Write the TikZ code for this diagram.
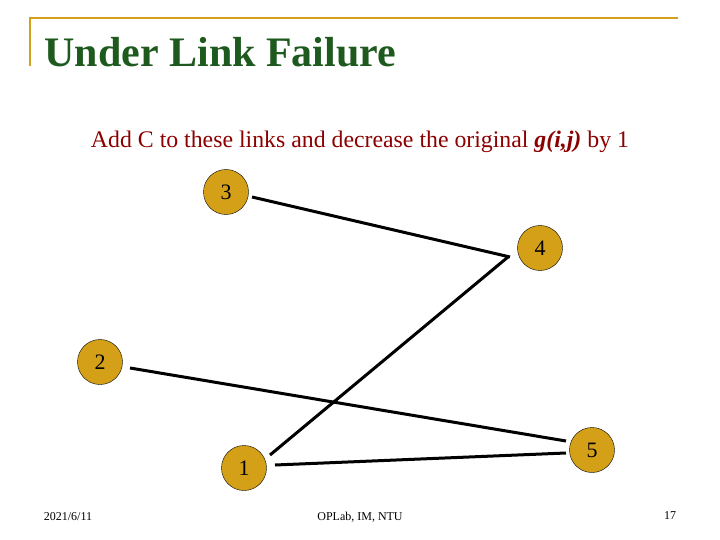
\documentclass[tikz,border=0pt]{standalone}
\usepackage{fontspec}
\setmainfont{Liberation Serif}
\definecolor{gold}{HTML}{D4A017}
\definecolor{tgreen}{HTML}{1E5A1E}
\definecolor{rule}{HTML}{D4A017}
\definecolor{dred}{HTML}{8B0000}
\begin{document}
\begin{tikzpicture}[x=1pt,y=-1pt,
  nd/.style={circle,draw=black,fill=gold,minimum size=45pt,inner sep=0pt,font=\fontsize{22}{24}\selectfont},
  ln/.style={line width=3pt,black}]
\useasboundingbox (0,0) rectangle (720,540);
\draw[rule,line width=2.5pt] (30,66) -- (30,18) -- (678,18);
\node[anchor=west,text=tgreen,font=\fontsize{42}{44}\selectfont\bfseries] (t) at (41,52) {Under Link Failure};
\node[text=dred,font=\fontsize{23.8}{26}\selectfont] (s) at (360,142) {Add C to these links and decrease the original \textbf{\textit{g(i,j)}} by 1};
\node[nd] (n3) at (226,192) {3};
\node[nd] (n4) at (540,248) {4};
\node[nd] (n2) at (100,362) {2};
\node[nd] (n5) at (592,450) {5};
\node[nd] (n1) at (244,468) {1};
\coordinate (a3) at (252,197); \coordinate (b4) at (510,257);
\coordinate (a4) at (508,257); \coordinate (b1) at (270,455);
\coordinate (a2) at (130,368); \coordinate (b5) at (566,441);
\coordinate (a1) at (275,465); \coordinate (c5) at (566,453);
\draw[ln] (a3) -- (b4);
\draw[ln] (a4) -- (b1);
\draw[ln] (a2) -- (b5);
\draw[ln] (a1) -- (c5);
\node[font=\fontsize{12}{14}\selectfont] (d) at (68,517) {2021/6/11};
\node[font=\fontsize{12}{14}\selectfont] (f) at (360,517) {OPLab, IM, NTU};
\node[font=\fontsize{12}{14}\selectfont] (p) at (670,516) {17};
\end{tikzpicture}
\end{document}
